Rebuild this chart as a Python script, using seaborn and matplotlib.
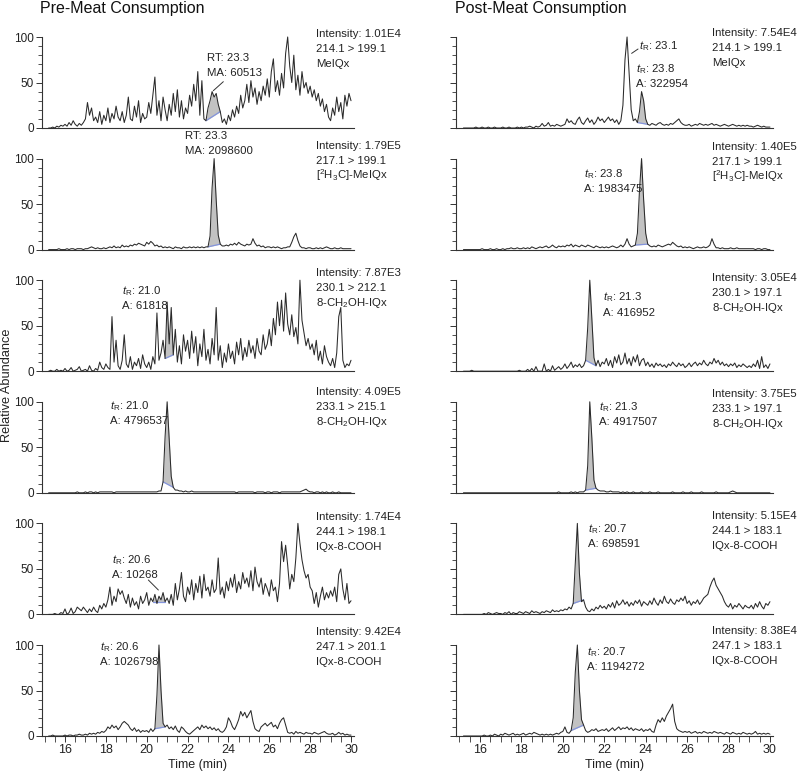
import numpy as np
import matplotlib
matplotlib.use("Agg")
import matplotlib.pyplot as plt
import seaborn as sns
from matplotlib.ticker import MultipleLocator

# ---------------- data ----------------
time_min = np.round(np.arange(15.2, 30.001, 0.1), 1)

pre_meiqx = [0,0,1,0,2,1,3,2,
    4,2,6,3,8,4,2,5,3,6,
    10,28,14,22,8,12,6,18,4,14,
    8,22,6,16,10,24,12,8,18,6,
    14,34,10,8,24,12,30,6,16,10,
    12,28,16,36,56,14,30,8,34,20,
    8,26,14,38,18,42,12,30,10,22,
    16,36,24,48,30,62,14,52,10,8,
    22,30,40,34,38,26,18,6,10,4,
    14,8,20,12,24,16,36,22,30,48,
    28,52,34,44,26,40,30,46,36,54,
    34,62,76,40,52,36,60,44,82,100,
    68,50,80,42,58,36,62,44,50,38,
    46,34,42,30,38,24,32,18,26,12,
    8,22,14,34,18,28,10,36,24,38,
    30]
pre_d3_meiqx = [0,0,0,0,0,1,0,0,
    0,1,0,1,1,0,1,1,1,0,
    1,1,2,3,2,1,2,1,1,2,
    1,2,3,2,4,2,3,2,5,3,
    4,3,5,4,6,5,7,6,5,4,
    8,6,9,7,4,5,3,4,2,3,
    2,3,2,1,3,2,2,1,3,2,
    2,3,2,3,2,3,2,3,2,3,
    3,15,68,100,55,16,6,4,4,5,
    4,6,5,7,5,8,6,5,4,6,
    5,6,12,7,4,5,3,4,2,3,
    3,2,3,2,3,2,1,2,2,3,
    3,8,14,18,10,4,2,2,1,2,
    2,1,1,2,1,2,1,2,3,2,
    1,1,2,1,1,2,1,1,1,1,
    1]
pre_ch2oh_212 = [0,1,0,0,2,0,1,0,
    3,0,1,4,0,1,2,5,0,1,
    2,0,6,1,0,3,1,10,4,2,
    8,4,2,60,10,34,6,2,12,40,
    8,4,16,2,10,6,14,3,18,8,
    4,10,2,16,8,64,12,20,34,14,
    76,30,70,18,46,10,28,8,40,22,
    34,14,44,20,38,6,30,16,46,12,
    24,8,36,18,70,12,28,4,20,10,
    30,14,22,8,32,18,36,12,26,16,
    34,20,28,14,36,22,18,40,24,30,
    46,28,58,40,76,50,78,44,86,52,
    40,62,38,48,30,100,56,42,28,36,
    24,30,18,34,12,22,8,28,16,10,
    6,14,4,20,60,70,12,4,8,6,
    12]
pre_ch2oh_215 = [0,0,0,0,0,0,0,0,
    0,0,0,0,0,0,1,0,0,0,
    1,0,1,1,0,1,0,1,1,1,
    1,1,1,1,0,1,1,1,1,1,
    1,1,1,1,1,1,1,1,1,1,
    1,1,1,1,1,1,2,2,12,62,
    100,60,18,6,3,3,2,2,1,2,
    1,1,2,1,1,1,1,1,1,1,
    1,1,1,1,1,1,1,1,1,1,
    1,1,1,1,0,1,1,1,1,1,
    1,1,1,0,1,1,1,1,0,1,
    1,0,1,1,1,0,1,1,1,1,
    1,1,1,1,1,1,2,3,4,2,
    1,1,0,1,1,0,1,0,1,0,
    0,1,0,0,1,0,0,0,0,0,
    0]
pre_cooh_198 = [0,0,0,1,0,0,2,1,
    6,0,2,7,1,3,8,6,4,8,
    5,2,6,3,8,4,2,10,6,12,
    8,16,30,10,20,14,28,22,26,18,
    12,22,8,18,10,14,6,20,12,16,
    24,10,18,14,22,12,20,16,24,14,
    18,12,22,10,34,16,28,46,20,14,
    30,22,38,16,34,24,42,18,44,26,
    30,20,38,24,28,62,22,30,18,36,
    26,40,30,44,24,36,28,46,34,40,
    30,48,26,52,36,30,40,22,34,28,
    20,38,26,30,14,34,80,58,76,54,
    28,44,36,62,100,78,60,48,40,44,
    30,26,12,24,8,20,30,16,24,18,
    26,20,30,14,44,50,28,16,34,12,
    15]
pre_cooh_201 = [0,0,1,0,0,0,0,0,
    1,0,1,1,0,1,1,2,1,1,
    2,1,3,2,3,2,4,3,5,4,
    6,10,8,12,9,11,7,10,14,16,
    14,12,8,6,9,5,7,4,6,5,
    6,4,8,5,8,45,100,50,14,10,
    12,8,10,7,11,6,4,10,8,5,
    3,2,4,6,8,10,7,12,9,11,
    8,10,7,9,6,8,5,4,6,10,
    20,16,10,7,12,18,27,22,26,20,
    24,28,16,8,6,5,10,12,14,11,
    13,15,10,12,8,14,18,20,12,4,
    3,4,2,5,3,4,3,2,4,3,
    3,2,4,3,2,3,4,5,3,2,
    2,3,1,2,4,2,3,1,2,1,
    1]
post_meiqx = [0,0,0,0,0,0,1,0,
    0,1,0,0,1,0,0,1,0,0,
    0,1,0,0,1,0,0,0,1,0,
    1,0,1,1,2,1,0,2,1,2,
    5,2,3,6,2,3,2,4,3,2,
    3,4,10,6,8,5,4,9,12,6,
    4,8,11,6,9,4,7,12,8,10,
    6,9,12,8,10,6,9,4,8,25,
    75,100,60,20,8,10,6,18,40,30,
    10,4,3,5,4,3,5,6,4,3,
    4,3,5,4,6,8,10,6,4,3,
    3,4,2,3,4,3,5,4,3,4,
    3,4,5,3,4,3,2,3,4,3,
    2,3,4,3,2,3,2,3,2,3,
    2,2,1,2,3,2,1,2,1,1,
    1]
post_d3_meiqx = [0,0,0,0,0,0,0,0,
    0,1,0,0,0,1,0,0,1,0,
    0,1,0,1,1,2,1,1,2,1,
    1,2,1,2,1,3,2,1,2,3,
    2,3,4,2,3,5,3,2,4,3,
    4,3,5,4,6,3,5,4,3,5,
    4,3,5,4,3,2,4,3,2,3,
    2,3,2,3,4,3,2,3,5,3,
    6,12,6,3,4,5,18,65,100,55,
    18,6,4,3,4,3,5,4,3,4,
    5,6,5,8,6,4,3,4,2,3,
    2,3,2,1,2,3,2,2,3,2,
    3,5,12,6,2,2,1,2,1,1,
    1,2,1,1,2,1,1,1,1,1,
    1,1,1,0,1,1,0,1,1,0,
    0]
post_ch2oh_197 = [0,0,0,0,1,0,0,0,
    0,0,0,0,0,0,0,0,0,0,
    0,0,0,0,0,0,0,0,0,1,
    0,0,0,2,0,3,0,5,0,0,
    0,8,0,2,0,6,1,3,5,2,
    4,8,3,6,10,4,7,5,8,4,
    6,12,48,100,58,15,6,12,5,10,
    8,14,6,12,4,16,9,18,7,10,
    20,8,14,6,16,10,18,6,12,14,
    6,10,5,8,4,9,6,8,5,7,
    4,8,6,10,7,5,9,6,8,4,
    6,9,5,8,10,6,9,7,12,8,
    6,10,8,14,9,12,7,10,6,8,
    5,8,6,9,4,7,5,8,6,4,
    6,4,8,5,12,3,16,4,7,3,
    8]
post_ch2oh_197b = [0,0,0,0,0,0,0,0,
    0,0,0,0,0,0,0,0,0,0,
    0,0,0,0,0,0,0,0,0,0,
    0,0,0,0,0,0,0,0,0,0,
    0,0,0,0,0,0,0,0,1,0,
    0,0,0,0,1,0,1,0,1,1,
    1,3,30,100,60,14,5,3,2,2,
    2,1,1,2,1,1,1,1,0,1,
    0,1,0,0,1,0,0,0,1,0,
    0,0,1,0,0,0,1,0,0,0,
    0,0,0,1,0,0,0,0,1,0,
    0,0,1,0,0,0,0,1,0,0,
    0,0,0,0,1,0,0,0,0,0,
    0,1,2,1,0,0,0,0,0,0,
    0,0,0,0,0,0,0,0,0,0,
    0]
post_cooh_183 = [0,0,0,0,0,0,0,0,
    0,0,1,0,2,1,0,1,2,1,
    1,0,2,1,3,0,2,1,1,3,
    2,1,3,2,1,4,2,3,2,1,
    3,2,4,3,2,5,3,4,3,5,
    4,6,5,8,6,12,55,100,45,14,
    16,8,4,3,6,4,8,6,10,7,
    9,6,11,8,13,7,15,10,12,16,
    11,14,9,13,10,15,12,16,9,14,
    12,10,15,11,18,13,10,16,12,20,
    14,12,17,13,11,16,14,18,15,20,
    12,15,10,14,12,16,11,14,18,20,
    22,30,36,40,32,28,24,20,14,10,
    8,12,6,10,8,12,9,6,10,8,
    7,10,6,12,8,14,9,6,12,10,
    14]
post_cooh_183b = [0,0,0,0,0,0,0,0,
    0,0,1,0,0,1,0,2,1,0,
    2,1,3,2,1,2,3,1,2,1,
    2,3,1,2,3,2,4,3,2,1,
    2,1,2,1,2,1,2,3,2,4,
    5,10,4,3,6,20,70,100,50,18,
    12,6,4,5,7,6,8,5,6,7,
    6,8,5,7,9,6,8,10,7,9,
    8,10,7,9,6,8,7,6,8,5,
    7,6,8,5,4,12,18,15,20,16,
    22,26,30,35,16,8,6,5,4,5,
    4,5,3,4,5,3,4,3,5,4,
    3,4,3,5,4,3,4,3,2,4,
    3,2,4,3,2,3,2,4,3,2,
    3,2,3,5,2,3,2,3,2,3,
    2]

pre_traces = [pre_meiqx, pre_d3_meiqx, pre_ch2oh_212, pre_ch2oh_215, pre_cooh_198, pre_cooh_201]
post_traces = [post_meiqx, post_d3_meiqx, post_ch2oh_197, post_ch2oh_197b, post_cooh_183, post_cooh_183b]

pre_info = ["Intensity: 1.01E4\n214.1 > 199.1\nMeIQx",
            "Intensity: 1.79E5\n217.1 > 199.1\n[$^2$H$_3$C]-MeIQx",
            "Intensity: 7.87E3\n230.1 > 212.1\n8-CH$_2$OH-IQx",
            "Intensity: 4.09E5\n233.1 > 215.1\n8-CH$_2$OH-IQx",
            "Intensity: 1.74E4\n244.1 > 198.1\nIQx-8-COOH",
            "Intensity: 9.42E4\n247.1 > 201.1\nIQx-8-COOH"]
post_info = ["Intensity: 7.54E4\n214.1 > 199.1\nMeIQx",
             "Intensity: 1.40E5\n217.1 > 199.1\n[$^2$H$_3$C]-MeIQx",
             "Intensity: 3.05E4\n230.1 > 197.1\n8-CH$_2$OH-IQx",
             "Intensity: 3.75E5\n233.1 > 197.1\n8-CH$_2$OH-IQx",
             "Intensity: 5.15E4\n244.1 > 183.1\nIQx-8-COOH",
             "Intensity: 8.38E4\n247.1 > 183.1\nIQx-8-COOH"]

TR = r"$t_{\mathrm{R}}$"
pre_peak_labels = ["RT: 23.3\nMA: 60513", "RT: 23.3\nMA: 2098600",
                   TR + ": 21.0\nA: 61818", TR + ": 21.0\nA: 4796537",
                   TR + ": 20.6\nA: 10268", TR + ": 20.6\nA: 1026798"]
post_peak_labels = [TR + ": 23.8\nA: 322954", TR + ": 23.8\nA: 1983475",
                    TR + ": 21.3\nA: 416952", TR + ": 21.3\nA: 4917507",
                    TR + ": 20.7\nA: 698591", TR + ": 20.7\nA: 1194272"]
extra_label = TR + ": 23.1"

pre_shade = [(22.9, 23.6), (23.0, 23.6), (20.9, 21.3), (20.8, 21.3), (20.3, 20.9), (20.4, 20.9)]
post_shade = [(23.6, 24.1), (23.5, 24.1), (21.1, 21.6), (21.1, 21.6), (20.5, 21.0), (20.4, 21.0)]

# ---------------- layout (styling) ----------------
pre_label_pos = [(22.95, 61.9), (21.87, 109.5), (18.78, 72.7), (18.2, 79.5), (18.29, 44.4), (17.71, 82.7)]
post_label_pos = [(23.53, 49.1), (21.04, 67.4), (21.95, 65.4), (21.75, 79.2), (21.23, 78.0), (21.18, 76.9)]
pre_info_v = [104, 115, 109, 112, 108, 115]
post_info_v = [105, 114, 104, 110, 109, 116]

for name, tr in zip(["pre"] * 6 + ["post"] * 6, pre_traces + post_traces):
    if len(tr) != len(time_min):
        raise ValueError(f"{name} trace length {len(tr)} != {len(time_min)}")

sns.set_theme(style="ticks")
plt.rcParams["font.family"] = ["Liberation Sans", "DejaVu Sans"]
plt.rcParams["mathtext.fontset"] = "custom"
plt.rcParams["mathtext.rm"] = "Liberation Sans"
plt.rcParams["mathtext.it"] = "Liberation Sans:italic"
plt.rcParams["mathtext.bf"] = "Liberation Sans:bold"

FS = 8.2
LINE_STEP = 16.5
XMIN, XMAX = 14.85, 30.15
fig = plt.figure(figsize=(8.0, 7.74), dpi=100)

def make_ax(col, k):
    left_px = 41.5 if col == 0 else 456.2
    ppm = 20.43 if col == 0 else 20.71
    width_px = (XMAX - XMIN) * ppm
    y0 = 128 + 121.6 * k
    return fig.add_axes([left_px / 800, 1 - y0 / 774, width_px / 800, 91 / 774])

def put_lines(ax, t, v_center, text, ha="left"):
    lines = text.split("\n")
    vb = v_center - 4.4
    for i, s in enumerate(lines):
        ax.text(t, vb - i * LINE_STEP, s, fontsize=FS, ha=ha, va="baseline",
                color="#222222", clip_on=False)

for col, (traces, infos, labels, shades, lpos, iv) in enumerate([
        (pre_traces, pre_info, pre_peak_labels, pre_shade, pre_label_pos, pre_info_v),
        (post_traces, post_info, post_peak_labels, post_shade, post_label_pos, post_info_v)]):
    for k in range(6):
        ax = make_ax(col, k)
        y = np.array(traces[k], dtype=float)
        s0, s1 = shades[k]
        m = (time_min >= s0 - 1e-9) & (time_min <= s1 + 1e-9)
        tt = time_min[m]
        base = np.interp(tt, [tt[0], tt[-1]], [y[m][0], y[m][-1]])
        ax.fill_between(tt, base, y[m], color="#c2c2c2", linewidth=0, zorder=1, clip_on=False)
        ax.plot([tt[0], tt[-1]], [y[m][0], y[m][-1]], color="#8394dc", lw=0.9, zorder=2, clip_on=False)
        sns.lineplot(x=time_min, y=y, ax=ax, color="#2a2a2a", linewidth=0.75,
                     estimator=None, sort=False, zorder=3)
        for ln in ax.lines:
            ln.set_clip_on(False)
        ax.set_xlim(XMIN, XMAX)
        ax.set_ylim(0, 100)
        ax.set_xlabel("")
        ax.set_ylabel("")
        sns.despine(ax=ax)
        for sp in ("left", "bottom"):
            ax.spines[sp].set_color("#333333")
            ax.spines[sp].set_linewidth(0.8)
        ax.yaxis.set_major_locator(MultipleLocator(50))
        ax.yaxis.set_minor_locator(MultipleLocator(10))
        ax.tick_params(axis="y", which="major", length=4, width=0.7, color="#333333",
                       labelsize=8.5, pad=1.5, labelleft=(col == 0), labelcolor="#222222")
        ax.tick_params(axis="y", which="minor", length=3, width=0.6, color="#333333")
        if k == 5:
            ax.xaxis.set_major_locator(MultipleLocator(2))
            ax.xaxis.set_minor_locator(MultipleLocator(0.5))
            ax.tick_params(axis="x", which="major", length=4, width=0.7, color="#333333",
                           labelsize=9, pad=2, labelcolor="#222222")
            ax.tick_params(axis="x", which="minor", length=4, width=0.6, color="#333333")
            ax.set_xlabel("Time (min)", fontsize=9, labelpad=2, color="#222222")
        else:
            ax.tick_params(axis="x", which="both", bottom=False, labelbottom=False)
        ax.patch.set_alpha(0)
        # info block
        put_lines(ax, 28.29 if col == 0 else 27.2, iv[k], infos[k])
        # peak label (second line measured; first line one step above)
        t_lab, v_a = lpos[k]
        put_lines(ax, t_lab, v_a + LINE_STEP, labels[k])
        if col == 0 and k == 0:
            ax.plot([23.75, 23.26], [50.9, 41.0], color="#333333", lw=0.7, clip_on=False)
        if col == 0 and k == 4:
            ax.plot([20.08, 20.57], [37.8, 26.8], color="#333333", lw=0.7, clip_on=False)
        if col == 1 and k == 0:
            put_lines(ax, 23.69, 91.2, extra_label)
            ax.plot([23.32, 23.63], [82.0, 86.8], color="#333333", lw=0.7, clip_on=False)

fig.text(40 / 800, 1 - 8 / 774, "Pre-Meat Consumption", fontsize=11.5, ha="left", va="center", color="#111111")
fig.text(455 / 800, 1 - 8 / 774, "Post-Meat Consumption", fontsize=11.5, ha="left", va="center", color="#111111")
fig.text(7 / 800, 1 - 385 / 774, "Relative Abundance", fontsize=9.2, rotation=90, ha="center", va="center", color="#222222")

fig.savefig("out.png", dpi=100, facecolor="white")
